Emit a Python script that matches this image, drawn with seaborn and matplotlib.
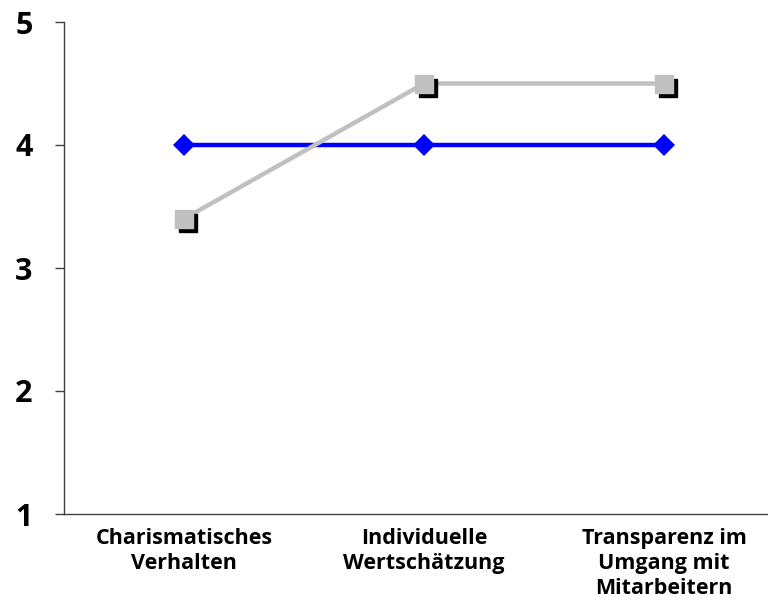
import matplotlib
matplotlib.use("Agg")
import matplotlib.pyplot as plt
import matplotlib.transforms as mtransforms
import seaborn as sns
import pandas as pd

categories = ["Charismatisches\nVerhalten", "Individuelle\nWertschätzung", "Transparenz im\nUmgang mit\nMitarbeitern"]
blue_values = [4.0, 4.0, 4.0]
gray_values = [3.4, 4.5, 4.5]
y_ticks = [1, 2, 3, 4, 5]

sns.set_theme(style="white")
plt.rcParams["font.family"] = ["Open Sans", "DejaVu Sans"]

df = pd.DataFrame({
    "pos": list(range(len(categories))) * 2,
    "value": blue_values + gray_values,
    "series": ["blue"] * len(categories) + ["gray"] * len(categories),
})

fig = plt.figure(figsize=(7.68, 6.01), dpi=100)
ax = fig.add_axes([64 / 768, (601 - 514) / 601, 720 / 768, (514 - 22) / 601])

blue_df = df[df["series"] == "blue"]
gray_df = df[df["series"] == "gray"]

sns.lineplot(data=blue_df, x="pos", y="value", color="#0000ff", linewidth=3.2,
             marker="D", markersize=11.5, markeredgewidth=0, ax=ax, zorder=3)
sns.lineplot(data=gray_df, x="pos", y="value", color="#c0c0c0", linewidth=3.2,
             ax=ax, zorder=4)

# shadowed square markers on the gray series
shadow = mtransforms.offset_copy(ax.transData, fig=fig, x=3, y=-3, units="points")
ax.plot(gray_df["pos"], gray_df["value"], linestyle="none", marker="s",
        markersize=12.5, color="black", transform=shadow, zorder=5)
ax.plot(gray_df["pos"], gray_df["value"], linestyle="none", marker="s",
        markersize=12.5, color="#c0c0c0", zorder=6)

ax.set_xlim(-0.5, 2.5)
ax.set_ylim(1, 5)
ax.set_yticks(y_ticks)
ax.set_yticklabels([str(t) for t in y_ticks], fontsize=22, fontweight="bold", color="black")
ax.set_xticks([0, 1, 2])
ax.set_xticklabels(categories, fontsize=15.5, fontweight="bold", color="black", linespacing=1.25)
ax.set_xticks([-0.5, 0.5, 1.5, 2.5], minor=True)
ax.tick_params(axis="x", which="major", length=0, pad=10)
ax.tick_params(axis="x", which="minor", length=5, color="#404040", width=1, direction="out")
ax.tick_params(axis="y", length=6.5, color="#404040", width=1, direction="out", pad=16, left=True)
ax.set_xlabel("")
ax.set_ylabel("")

for side in ["top", "right"]:
    ax.spines[side].set_visible(False)
for side in ["left", "bottom"]:
    ax.spines[side].set_color("#404040")
    ax.spines[side].set_linewidth(1)

fig.savefig("out.png", dpi=100)
